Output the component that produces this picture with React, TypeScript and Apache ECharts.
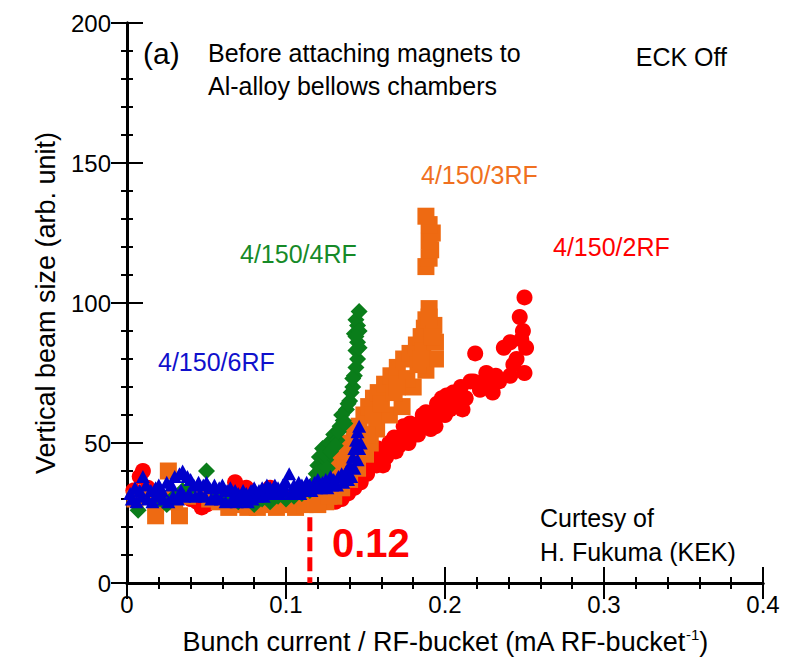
import React, { useEffect, useRef } from "react";
import * as echarts from "echarts";

// ---- data ----
const red2RF: number[][] = [
  [0.004, 33], [0.008, 38], [0.010, 40], [0.013, 34], [0.016, 30], [0.020, 31], [0.024, 29], [0.028, 31],
  [0.032, 30], [0.036, 32], [0.040, 30], [0.044, 29], [0.047, 27], [0.050, 28], [0.054, 31], [0.058, 30],
  [0.062, 29], [0.066, 31], [0.068, 36], [0.071, 30], [0.075, 34], [0.078, 29], [0.082, 30], [0.086, 31],
  [0.090, 34], [0.094, 30], [0.098, 31], [0.102, 30], [0.106, 29], [0.110, 28], [0.114, 28], [0.118, 29],
  [0.122, 29], [0.126, 30], [0.130, 31], [0.133, 33], [0.136, 32], [0.139, 35], [0.142, 36], [0.145, 38],
  [0.148, 40], [0.151, 39], [0.154, 43], [0.157, 42], [0.158, 48], [0.160, 46], [0.163, 45], [0.166, 48],
  [0.168, 52], [0.169, 47], [0.172, 51], [0.175, 53], [0.178, 52], [0.178, 57], [0.181, 55], [0.184, 57],
  [0.187, 56], [0.188, 61], [0.190, 59], [0.194, 56], [0.196, 60], [0.198, 66], [0.199, 63], [0.203, 62],
  [0.205, 68], [0.210, 70], [0.211, 62], [0.213, 66], [0.216, 72], [0.218, 72], [0.219, 82], [0.222, 69],
  [0.226, 75], [0.230, 68], [0.234, 72], [0.237, 84], [0.241, 86], [0.241, 74], [0.245, 80], [0.247, 95],
  [0.249, 90], [0.250, 102], [0.250, 75], [0.251, 84],
  [0.131, 29], [0.135, 30], [0.139, 32], [0.143, 34], [0.147, 36], [0.152, 41], [0.156, 44], [0.161, 42],
  [0.165, 50], [0.171, 49], [0.174, 56], [0.177, 50], [0.183, 53], [0.186, 60], [0.191, 55], [0.195, 64],
  [0.200, 60], [0.201, 67], [0.207, 65], [0.224, 72], [0.228, 71], [0.232, 74], [0.243, 78], [0.248, 87]
];

const orange3RF: number[][] = [
  [0.018, 24], [0.026, 40], [0.033, 24], [0.005, 30], [0.012, 31], [0.022, 30], [0.030, 29], [0.038, 31],
  [0.045, 33], [0.052, 30], [0.058, 29], [0.064, 27], [0.070, 28], [0.076, 27], [0.082, 27], [0.088, 28],
  [0.094, 27], [0.100, 28], [0.106, 27], [0.112, 28],
  [0.118, 30], [0.122, 33], [0.126, 36], [0.130, 40], [0.133, 44], [0.136, 47], [0.140, 50], [0.143, 53],
  [0.146, 56], [0.149, 60], [0.152, 63], [0.155, 66], [0.158, 68], [0.162, 71], [0.166, 74], [0.170, 77],
  [0.174, 80], [0.178, 82], [0.182, 85], [0.185, 88], [0.187, 91], [0.188, 94], [0.190, 98],
  [0.125, 29], [0.130, 31], [0.135, 34], [0.140, 37], [0.145, 41], [0.150, 46], [0.153, 50], [0.157, 55],
  [0.165, 60], [0.173, 63], [0.180, 70], [0.186, 83], [0.188, 76], [0.194, 80], [0.194, 86], [0.193, 92],
  [0.120, 28], [0.127, 31], [0.132, 37], [0.137, 41], [0.142, 44], [0.147, 48], [0.151, 53], [0.155, 60],
  [0.160, 64], [0.168, 68], [0.176, 73], [0.183, 78], [0.192, 88], [0.190, 95], [0.185, 80], [0.170, 70],
  [0.188, 113], [0.190, 116], [0.191, 119], [0.190, 122], [0.192, 125], [0.190, 128], [0.188, 131]
];

const green4RF: number[][] = [
  [0.007, 26], [0.020, 30], [0.025, 28], [0.030, 31], [0.035, 33], [0.040, 34], [0.050, 40], [0.055, 33],
  [0.060, 31], [0.065, 30], [0.070, 29], [0.075, 30], [0.080, 28], [0.085, 30], [0.090, 29], [0.095, 31],
  [0.100, 30], [0.105, 31], [0.110, 32], [0.115, 33], [0.118, 36], [0.120, 42], [0.121, 45], [0.122, 40],
  [0.123, 48], [0.125, 44], [0.127, 50], [0.130, 53], [0.132, 51], [0.134, 56], [0.136, 58], [0.138, 62],
  [0.140, 65], [0.141, 68], [0.142, 70], [0.143, 74], [0.144, 77], [0.145, 80], [0.144, 83], [0.145, 86],
  [0.143, 89], [0.145, 92], [0.144, 94], [0.146, 97],
  [0.119, 39], [0.124, 46], [0.126, 41], [0.128, 47], [0.131, 49], [0.133, 54], [0.135, 60], [0.137, 57],
  [0.139, 64], [0.142, 73], [0.146, 84], [0.146, 90], [0.144, 88]
];

const blue6RF: number[][] = [
  [0.002, 32], [0.005, 34], [0.008, 33], [0.010, 38], [0.012, 35], [0.015, 33], [0.018, 34], [0.020, 35],
  [0.022, 33], [0.025, 36], [0.028, 35], [0.030, 38], [0.033, 39], [0.035, 40], [0.038, 38], [0.040, 37],
  [0.042, 35], [0.045, 36], [0.048, 35], [0.050, 36], [0.052, 34], [0.055, 35], [0.058, 34], [0.060, 35],
  [0.063, 33], [0.065, 34], [0.068, 33], [0.070, 32], [0.073, 33], [0.075, 32], [0.078, 33], [0.080, 34],
  [0.083, 33], [0.085, 34], [0.088, 35], [0.090, 34], [0.093, 35], [0.095, 34], [0.098, 35], [0.100, 36],
  [0.102, 39], [0.105, 35], [0.108, 36], [0.110, 35], [0.113, 36], [0.115, 35], [0.118, 36], [0.120, 37],
  [0.123, 36], [0.125, 37], [0.128, 38], [0.130, 37], [0.133, 38], [0.135, 39], [0.138, 40], [0.140, 42],
  [0.142, 45], [0.143, 48], [0.144, 51], [0.145, 54], [0.146, 56],
  [0.003, 30], [0.006, 29], [0.009, 31], [0.013, 30], [0.016, 29], [0.019, 31], [0.023, 30], [0.026, 29],
  [0.029, 31], [0.032, 30], [0.034, 33], [0.036, 31], [0.039, 32], [0.043, 31], [0.046, 32], [0.049, 31],
  [0.053, 30], [0.056, 31], [0.059, 30], [0.062, 29], [0.066, 30], [0.069, 29], [0.072, 30], [0.076, 29],
  [0.079, 30], [0.082, 31], [0.086, 31], [0.089, 32], [0.092, 32], [0.096, 32], [0.099, 33], [0.103, 32],
  [0.106, 33], [0.109, 32], [0.112, 33], [0.116, 33], [0.119, 34], [0.122, 34], [0.126, 34], [0.129, 35],
  [0.132, 35], [0.136, 36], [0.139, 37], [0.141, 38], [0.143, 41], [0.145, 44], [0.146, 48], [0.147, 50]
];

const thresholdX = 0.115;
const thresholdTop = 23.5;
const thresholdLabel = "0.12";

const xTicks = { min: 0, max: 0.4, interval: 0.1 };
const yTicks = { min: 0, max: 200, interval: 50 };

const FONT = "Liberation Sans, Arial, sans-serif";

export default function App() {
  const ref = useRef<HTMLDivElement>(null);
  useEffect(() => {
    if (!ref.current) return;
    const chart = echarts.init(ref.current, null, { renderer: "svg" });
    const axisLine = { show: true, lineStyle: { color: "#000", width: 3 } };
    const axisTick = { show: true, inside: true, length: 16, lineStyle: { color: "#000", width: 2 } };
    const minorTick = { show: true, splitNumber: 5, length: 6, lineStyle: { color: "#000", width: 2 } };
    chart.setOption({
      animation: false,
      backgroundColor: "#fff",
      textStyle: { fontFamily: FONT },
      grid: { left: 127, right: 27, top: 23, bottom: 80 },
      xAxis: [
        {
          type: "value",
          position: "bottom",
          ...xTicks,
          axisLine,
          axisTick,
          minorTick,
          splitLine: { show: false },
          axisLabel: {
            fontSize: 24,
            color: "#000",
            fontFamily: FONT,
            margin: 9,
            formatter: (v: number) => String(+v.toFixed(1)),
          },
          name: "{a|Bunch current / RF-bucket (mA RF-bucket}{s|-1}{a|)}",
          nameLocation: "middle",
          nameGap: 44,
          nameTextStyle: {
            rich: {
              a: { fontSize: 27, color: "#000", fontFamily: FONT, lineHeight: 30 },
              s: { fontSize: 15, color: "#000", fontFamily: FONT, verticalAlign: "top", lineHeight: 30 },
            },
          },
        },
        {
          type: "value",
          position: "top",
          ...xTicks,
          axisLine,
          axisTick,
          minorTick,
          splitLine: { show: false },
          axisLabel: { show: false },
        },
      ],
      yAxis: [
        {
          type: "value",
          position: "left",
          ...yTicks,
          axisLine,
          axisTick,
          minorTick,
          splitLine: { show: false },
          axisLabel: { fontSize: 24, color: "#000", fontFamily: FONT, margin: 16 },
          name: "Vertical beam size (arb. unit)",
          nameLocation: "middle",
          nameGap: 68,
          nameTextStyle: { fontSize: 27, color: "#000", fontFamily: FONT },
        },
        {
          type: "value",
          position: "right",
          ...yTicks,
          axisLine,
          axisTick,
          minorTick,
          splitLine: { show: false },
          axisLabel: { show: false },
        },
      ],
      series: [
        {
          name: "4/150/2RF",
          type: "scatter",
          data: red2RF,
          symbol: "circle",
          symbolSize: 16,
          itemStyle: { color: "#FF0000", opacity: 1 },
        },
        {
          name: "4/150/3RF",
          type: "scatter",
          data: orange3RF,
          symbol: "rect",
          symbolSize: 17,
          itemStyle: { color: "#EE6A12", opacity: 1 },
        },
        {
          name: "4/150/4RF",
          type: "scatter",
          data: green4RF,
          symbol: "diamond",
          symbolSize: 17,
          itemStyle: { color: "#0A7D1A", opacity: 1 },
        },
        {
          name: "4/150/6RF",
          type: "scatter",
          data: blue6RF,
          symbol: "triangle",
          symbolSize: [14, 13],
          itemStyle: { color: "#0000CC", opacity: 1 },
        },
        {
          name: "threshold",
          type: "line",
          data: [[thresholdX, thresholdTop], [thresholdX, 0]],
          symbol: "none",
          lineStyle: { color: "#FF0000", width: 5, type: [14, 6] },
          z: 5,
        },
      ],
      graphic: [
        { type: "text", x: 143, y: 53, style: { text: "(a)", fontSize: 30, fontFamily: FONT, fill: "#000", verticalAlign: "middle" } },
        { type: "text", x: 208, y: 53, style: { text: "Before attaching magnets to", fontSize: 25, fontFamily: FONT, fill: "#000", verticalAlign: "middle" } },
        { type: "text", x: 208, y: 86, style: { text: "Al-alloy bellows chambers", fontSize: 25, fontFamily: FONT, fill: "#000", verticalAlign: "middle" } },
        { type: "text", x: 727, y: 57, style: { text: "ECK Off", fontSize: 25, fontFamily: FONT, fill: "#000", align: "right", verticalAlign: "middle" } },
        { type: "text", x: 421, y: 175, style: { text: "4/150/3RF", fontSize: 25, fontFamily: FONT, fill: "#F07020", verticalAlign: "middle" } },
        { type: "text", x: 240, y: 254, style: { text: "4/150/4RF", fontSize: 25, fontFamily: FONT, fill: "#168A28", verticalAlign: "middle" } },
        { type: "text", x: 553, y: 247, style: { text: "4/150/2RF", fontSize: 25, fontFamily: FONT, fill: "#FF0000", verticalAlign: "middle" } },
        { type: "text", x: 158, y: 362, style: { text: "4/150/6RF", fontSize: 25, fontFamily: FONT, fill: "#1010CC", verticalAlign: "middle" } },
        { type: "text", x: 540, y: 518, style: { text: "Curtesy of", fontSize: 25, fontFamily: FONT, fill: "#000", verticalAlign: "middle" } },
        { type: "text", x: 540, y: 552, style: { text: "H. Fukuma (KEK)", fontSize: 25, fontFamily: FONT, fill: "#000", verticalAlign: "middle" } },
        { type: "text", x: 332, y: 543, style: { text: thresholdLabel, fontSize: 40, fontWeight: "bold", fontFamily: FONT, fill: "#FF0000", verticalAlign: "middle" } },
      ],
    });
    return () => chart.dispose();
  }, []);
  return <div ref={ref} style={{ position: "fixed", left: 0, top: 0, width: 790, height: 663 }} />;
}
